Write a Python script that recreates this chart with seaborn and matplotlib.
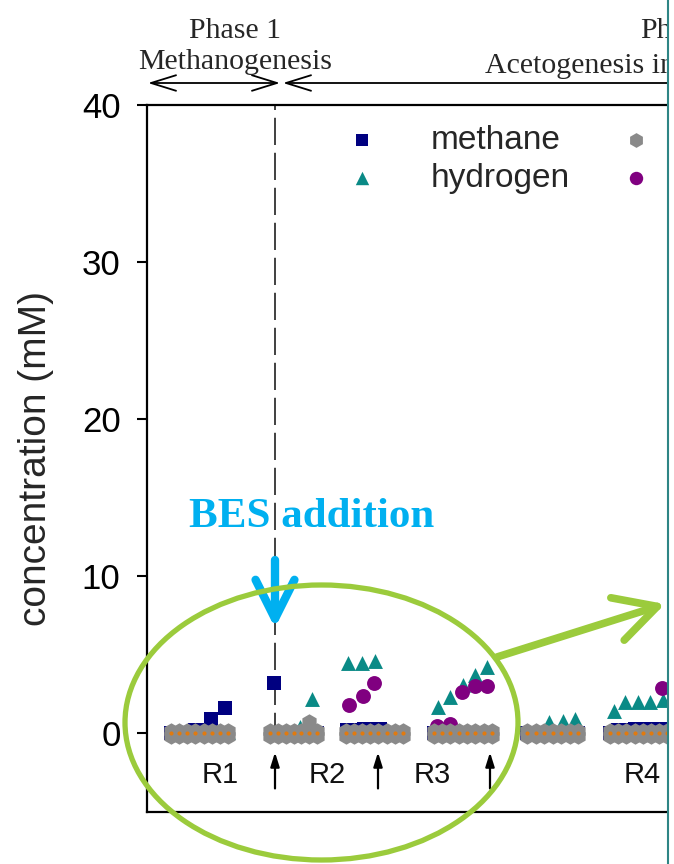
import matplotlib
matplotlib.use("Agg")
import matplotlib.pyplot as plt
import numpy as np
import pandas as pd
import seaborn as sns
from matplotlib.patches import Ellipse, FancyArrowPatch, Rectangle
from matplotlib.lines import Line2D

# ---------------- data ----------------
# sampling days (shared by the grey and orange series)
sample_days = [4.8, 6.4, 8.0, 9.6, 11.4, 13.0, 14.6, 16.2,
               24.6, 26.2, 27.8, 29.4, 30.8, 32.4, 34.0,
               39.8, 41.4, 43.0, 44.6, 46.2, 48.0, 49.6, 51.2,
               57.4, 59.0, 60.6, 62.4, 64.0, 65.6, 67.4, 69.0,
               76.0, 77.8, 79.4, 81.2, 82.8, 84.6, 86.2,
               92.6, 94.2, 95.8, 97.6, 99.2, 100.8, 102.4, 104.0, 105.6]
grey_rep1 = [0.15, 0.15, 0.15, 0.15, 0.15, 0.15, 0.15, 0.15,
             0.15, 0.15, 0.15, 0.15, 0.15, 0.75, 0.15,
             0.15, 0.15, 0.15, 0.15, 0.15, 0.15, 0.15, 0.15,
             0.15, 0.15, 0.15, 0.15, 0.15, 0.15, 0.15, 0.15,
             0.15, 0.15, 0.15, 0.15, 0.15, 0.15, 0.15,
             0.15, 0.15, 0.15, 0.15, 0.15, 0.15, 0.15, 0.15, 0.15]
grey_rep2 = [-0.15] * 47
orange_vals = [0.0] * 47

methane_days = [4.8, 6.4, 8.0, 9.6, 11.4, 12.8, 15.6,
                25.4, 27.8, 30.8, 34.0,
                40.0, 41.6, 43.4, 45.2, 46.6, 49.6,
                57.4, 62.4, 67.4,
                76.0, 81.2, 86.2,
                92.6, 94.2, 95.8, 97.6, 99.2, 100.8, 102.4, 104.0]
methane_vals = [0.0, 0.0, 0.0, 0.2, 0.2, 0.95, 1.6,
                3.2, 0.0, 0.0, 0.0,
                0.25, 0.25, 0.3, 0.3, 0.3, 0.0,
                0.0, 0.0, 0.0,
                0.0, 0.0, 0.0,
                0.0, 0.25, 0.25, 0.3, 0.3, 0.3, 0.3, 0.3]

hydrogen_days = [16.2, 30.6, 33.0, 40.2, 43.0, 45.6,
                 58.2, 60.6, 63.2, 65.6, 68.0,
                 80.4, 83.2, 85.6,
                 93.4, 95.6, 98.2, 100.6, 103.2]
hydrogen_vals = [0.1, 0.4, 2.2, 4.5, 4.5, 4.6,
                 1.7, 2.3, 3.1, 3.7, 4.2,
                 0.75, 0.8, 0.95,
                 1.4, 2.0, 2.0, 2.0, 2.1]

purple_days = [40.4, 43.2, 45.4, 58.0, 60.6, 63.0, 65.6, 68.0, 103.0]
purple_vals = [1.8, 2.4, 3.2, 0.5, 0.6, 2.65, 3.0, 3.0, 2.9]

yticks = [0, 10, 20, 30, 40]
bes_day = 25.6
feed_days = [25.6, 46.2, 68.6]
reactor_labels = ["R1", "R2", "R3", "R4"]
reactor_label_days = [14.6, 36.0, 57.0, 99.0]

# ---------------- style ----------------
sns.set_theme(style="white")
plt.rcParams["font.family"] = ["Liberation Sans", "DejaVu Sans"]

W, H = 674, 864
fig = plt.figure(figsize=(W / 100, H / 100), dpi=100)
ax = fig.add_axes([147 / W, 52 / H, 1000 / W, 707 / H])

C_METH = "#000080"
C_H2 = "#0A8A86"
C_PURP = "#800080"
C_GREY = "#8A8A8A"
C_ORNG = "#E07A10"

df_m = pd.DataFrame({"day": methane_days, "conc": methane_vals})
df_h = pd.DataFrame({"day": hydrogen_days, "conc": hydrogen_vals})
df_p = pd.DataFrame({"day": purple_days, "conc": purple_vals})
df_g1 = pd.DataFrame({"day": sample_days, "conc": grey_rep1})
df_g2 = pd.DataFrame({"day": sample_days, "conc": grey_rep2})
df_o = pd.DataFrame({"day": sample_days, "conc": orange_vals})

sns.scatterplot(data=df_m, x="day", y="conc", marker="s", color=C_METH, s=90,
                linewidth=0, ax=ax, zorder=3, legend=False)
h_meth = ax.collections[-1]
sns.scatterplot(data=df_h, x="day", y="conc", marker="^", color=C_H2, s=115,
                linewidth=0, ax=ax, zorder=3, legend=False)
h_h2 = ax.collections[-1]
sns.scatterplot(data=df_p, x="day", y="conc", marker="o", color=C_PURP, s=115,
                linewidth=0, ax=ax, zorder=3, legend=False)
h_purp = ax.collections[-1]
sns.scatterplot(data=df_g1, x="day", y="conc", marker="h", color=C_GREY, s=140,
                linewidth=0, ax=ax, zorder=4, legend=False)
h_grey = ax.collections[-1]
sns.scatterplot(data=df_g2, x="day", y="conc", marker="h", color=C_GREY, s=140,
                linewidth=0, ax=ax, zorder=4, legend=False)
sns.scatterplot(data=df_o, x="day", y="conc", marker="o", color=C_ORNG, s=9,
                linewidth=0, ax=ax, zorder=5, legend=False)

# BES dashed line
ax.plot([bes_day, bes_day], [-0.4, 40], color="#404040", lw=1.4,
        ls=(0, (14, 4)), zorder=1)

# feeding arrows below clusters
for d in feed_days:
    ax.annotate("", xy=(d, -1.2), xytext=(d, -3.5),
                arrowprops=dict(arrowstyle="-|>,head_length=0.7,head_width=0.22",
                                color="black", lw=1.6, shrinkA=0, shrinkB=0),
                annotation_clip=False)
for lab, d in zip(reactor_labels, reactor_label_days):
    ax.text(d, -2.65, lab, ha="center", va="center", fontsize=21, color="#111111")

ax.set_xlim(0, 200)
ax.set_ylim(-5, 40)
ax.set_yticks(yticks)
ax.set_xticks([])
ax.set_xlabel("")
ax.set_ylabel("concentration (mM)", fontsize=28, labelpad=20)
ax.tick_params(axis="y", length=7, width=1.5, pad=12, labelsize=25, colors="black",
               left=True, direction="out")
for sp in ax.spines.values():
    sp.set_linewidth(1.6)
    sp.set_color("black")

# legend
leg = ax.legend([h_meth, h_h2, h_grey, h_purp], ["methane", "hydrogen", "", ""],
                ncol=2, loc="upper left", bbox_to_anchor=(329 / W, 1 - 125 / H),
                bbox_transform=fig.transFigure, frameon=False, fontsize=24,
                handlelength=2.0, handletextpad=1.05, columnspacing=1.0,
                labelspacing=0.2, borderpad=0, borderaxespad=0, markerscale=0.9)

# ---------------- annotations in figure pixels ----------------
def fx(px):
    return px / W

def fy(py):
    return 1 - py / H

serif = ["Liberation Serif", "DejaVu Serif"]
fig.text(fx(235), fy(31), "Phase 1", ha="center", va="center", fontsize=21.5, family=serif)
fig.text(fx(235), fy(62), "Methanogenesis", ha="center", va="center", fontsize=21.5, family=serif)
fig.text(fx(640), fy(31), "Ph", ha="left", va="center", fontsize=21.5, family=serif)
fig.text(fx(485), fy(66), "Acetogenesis in", ha="left", va="center", fontsize=21.5, family=serif)

fig.patches.append(FancyArrowPatch((fx(148), fy(83)), (fx(280), fy(83)),
                                   transform=fig.transFigure,
                                   arrowstyle="<->,head_length=0.9,head_width=0.28",
                                   mutation_scale=20, lw=1.3, color="black",
                                   shrinkA=0, shrinkB=0))
fig.patches.append(FancyArrowPatch((fx(283), fy(83)), (fx(720), fy(83)),
                                   transform=fig.transFigure,
                                   arrowstyle="<-,head_length=0.9,head_width=0.28",
                                   mutation_scale=20, lw=1.3, color="black",
                                   shrinkA=0, shrinkB=0))

fig.text(fx(312), fy(517), "BES addition", ha="center", va="center", fontsize=31,
         fontweight="bold", family=serif, color="#00B0F0")
fig.patches.append(FancyArrowPatch((fx(275), fy(560)), (fx(275), fy(628)),
                                   transform=fig.transFigure,
                                   arrowstyle="->,head_length=0.7,head_width=0.35",
                                   mutation_scale=40, lw=6, color="#00B0F0",
                                   shrinkA=0, shrinkB=0, zorder=6))

GREEN = "#9BCB3C"
fig.patches.append(Ellipse((fx(321.5), fy(722.5)), 393 / W, 275 / H,
                           transform=fig.transFigure, fill=False, ec=GREEN,
                           lw=3.8, zorder=6))
fig.patches.append(FancyArrowPatch((fx(497), fy(657)), (fx(665), fy(604)),
                                   transform=fig.transFigure,
                                   arrowstyle="->,head_length=0.75,head_width=0.4",
                                   mutation_scale=40, lw=5.5, color=GREEN,
                                   shrinkA=0, shrinkB=0, zorder=6))

# right crop border
fig.patches.append(Rectangle((fx(668), 0), 6 / W, 1, transform=fig.transFigure,
                             color="white", zorder=20))
fig.add_artist(Line2D([fx(667.5), fx(667.5)], [0, 1], transform=fig.transFigure,
                      color="#2E8585", lw=1.5, zorder=21))

fig.savefig("out.png", dpi=100)
